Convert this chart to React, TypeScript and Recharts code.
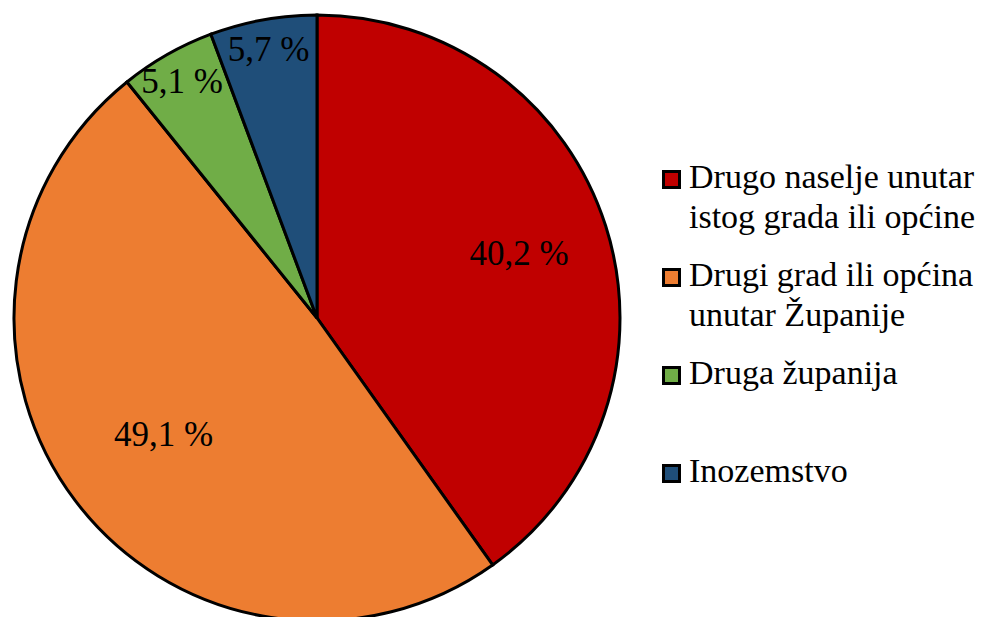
import { PieChart, Pie, Cell, Legend } from "recharts";

// Share of migrants by origin (%)
const categories = [
  "Drugo naselje unutar istog grada ili općine",
  "Drugi grad ili općina unutar Županije",
  "Druga županija",
  "Inozemstvo",
];
const shares = [40.2, 49.1, 5.1, 5.7];
const colors = ["#C00000", "#ED7D31", "#70AD47", "#1F4E79"];

const data = categories.map((name, i) => ({ name, value: shares[i] }));

const FONT = "Liberation Serif";
const RADIAN = Math.PI / 180;

const formatPct = (v: number) => `${v.toFixed(1).replace(".", ",")} %`;

const renderLabel = (props: any) => {
  const { cx, cy, midAngle, outerRadius, percent, value } = props;
  // best-fit style: thin slices near the rim, the biggest one a bit inward
  const k = percent < 0.1 ? 0.9 : percent > 0.45 ? 0.635 : 0.7;
  const r = outerRadius * k;
  const x = cx + r * Math.cos(-midAngle * RADIAN);
  const y = cy + r * Math.sin(-midAngle * RADIAN);
  return (
    <text
      x={x}
      y={y}
      fill="#000"
      fontFamily={FONT}
      fontSize={35}
      textAnchor="middle"
      dominantBaseline="central"
    >
      {formatPct(value)}
    </text>
  );
};

const renderLegend = () => (
  <div style={{ fontFamily: FONT, fontSize: 34, color: "#000", textAlign: "left" }}>
    {data.map((entry, i) => (
      <div
        key={entry.name}
        style={{ display: "flex", alignItems: "flex-start", height: 98 }}
      >
        <span
          style={{
            display: "inline-block",
            boxSizing: "border-box",
            width: 19,
            height: 19,
            marginTop: 13,
            marginRight: 8,
            flexShrink: 0,
            background: colors[i],
            border: "3px solid #000",
          }}
        />
        <span style={{ lineHeight: "40px", width: 300 }}>{entry.name}</span>
      </div>
    ))}
  </div>
);

export default function App() {
  return (
    <PieChart
      width={978}
      height={609}
      margin={{ top: 0, right: 0, bottom: 0, left: 0 }}
    >
      <Pie
        data={data}
        dataKey="value"
        nameKey="name"
        cx={309}
        cy={310}
        outerRadius={303}
        startAngle={90}
        endAngle={-270}
        stroke="#000"
        strokeWidth={3}
        labelLine={false}
        label={renderLabel}
        isAnimationActive={false}
      >
        {data.map((entry, i) => (
          <Cell key={`cell-${i}`} fill={colors[i]} />
        ))}
      </Pie>
      <Legend
        layout="vertical"
        align="right"
        verticalAlign="top"
        content={renderLegend}
        wrapperStyle={{ left: 654, top: 149, width: 330 }}
      />
    </PieChart>
  );
}
